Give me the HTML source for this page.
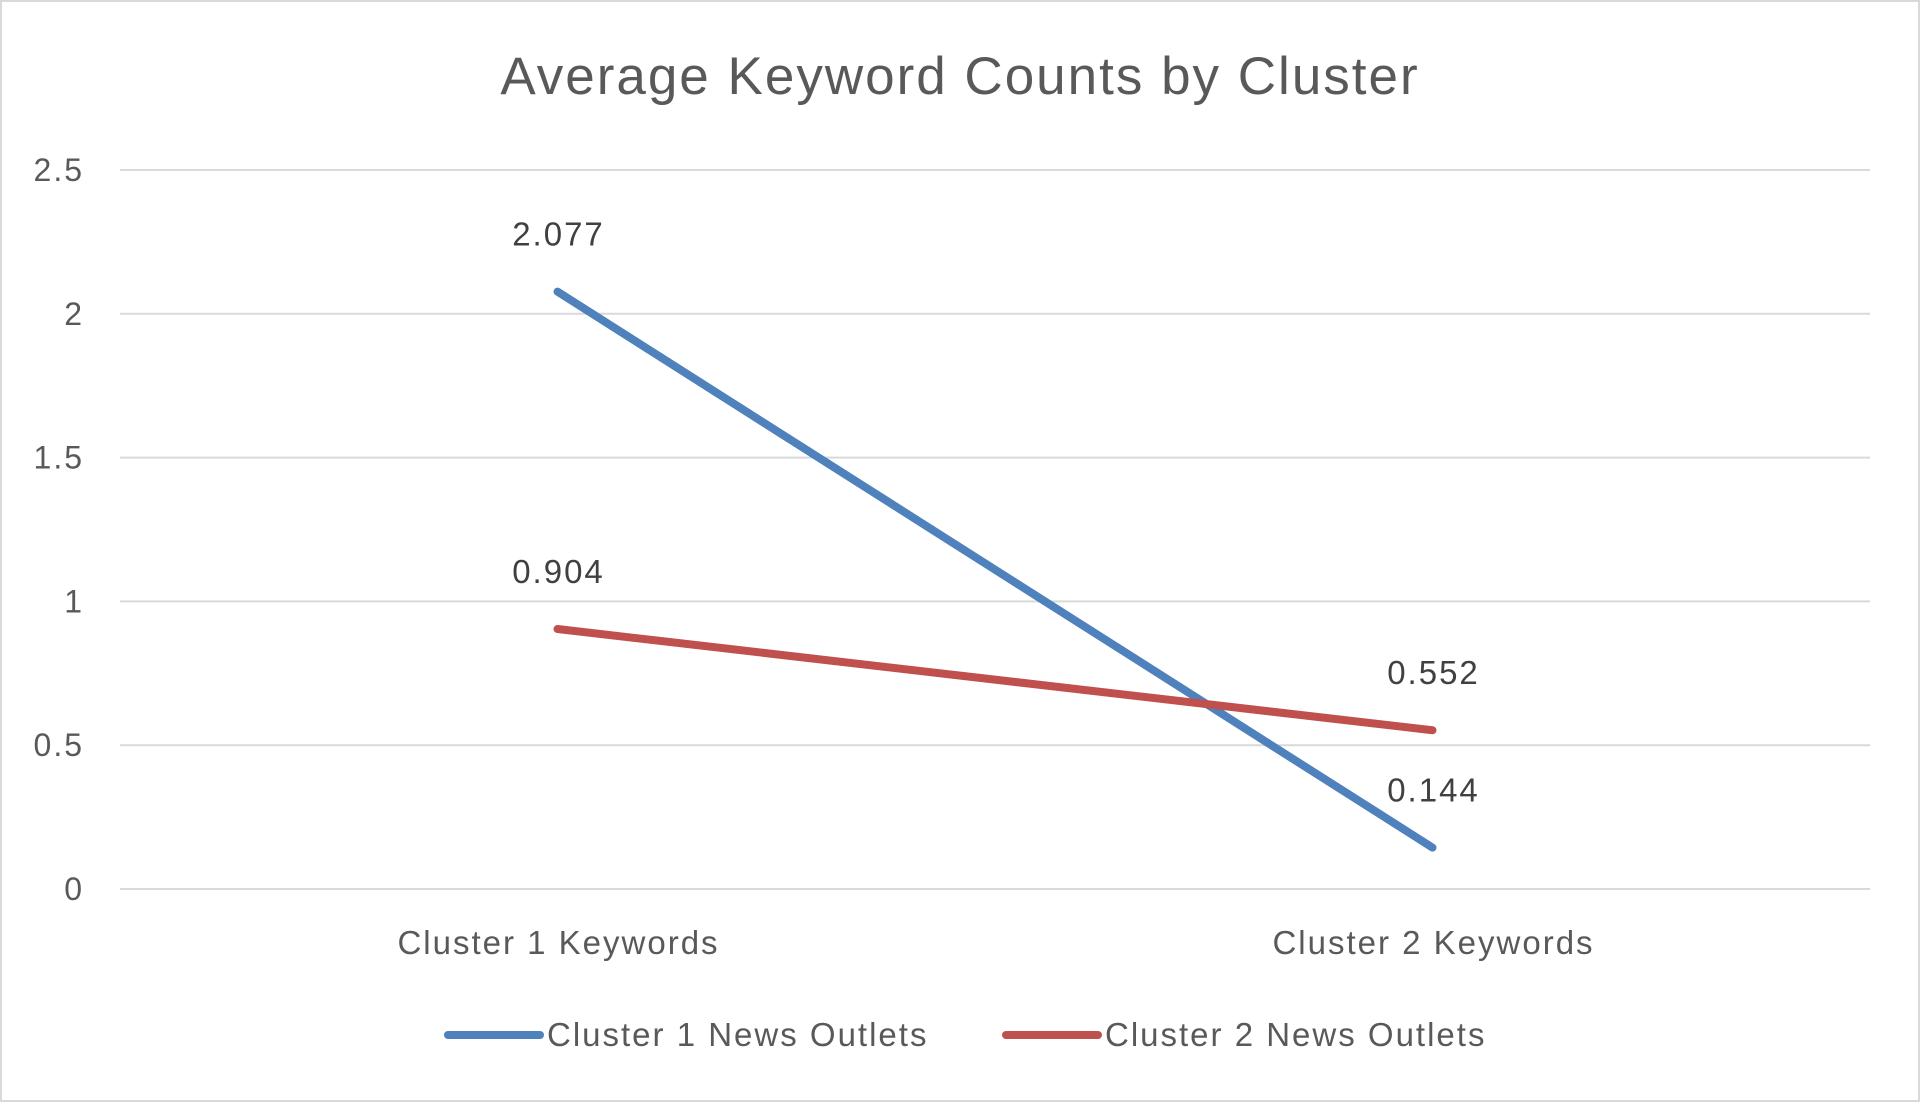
<!DOCTYPE html>
<html><head><meta charset="utf-8"><style>
html,body{margin:0;padding:0;background:#fff;}
svg{display:block;font-family:"Liberation Sans",sans-serif;}
svg text{letter-spacing:2px;}
</style></head><body>
<svg id="chart" width="1921" height="1103" viewBox="0 0 1921 1103">
<rect x="1" y="1" width="1918" height="1100" fill="#fff" stroke="#d9d9d9" stroke-width="2"/>
<text x="960" y="94" text-anchor="middle" font-size="53" fill="#595959">Average Keyword Counts by Cluster</text>
<g id="grid"></g><g id="lines"></g><g id="labels"></g>
<g>
<line x1="448" y1="1035" x2="540" y2="1035" stroke="#4F81BD" stroke-width="8" stroke-linecap="round"/>
<text x="547" y="1046" font-size="33" fill="#595959">Cluster 1 News Outlets</text>
<line x1="1006" y1="1035" x2="1098" y2="1035" stroke="#C0504D" stroke-width="8" stroke-linecap="round"/>
<text x="1105" y="1046" font-size="33" fill="#595959">Cluster 2 News Outlets</text>
</g>
</svg>
<script>
const categories=["Cluster 1 Keywords","Cluster 2 Keywords"];
const series1=[2.077,0.144];
const series2=[0.904,0.552];
const yTicks=[0,0.5,1,1.5,2,2.5];
const yTickLabels=["0","0.5","1","1.5","2","2.5"];
const NS="http://www.w3.org/2000/svg";
const L=120,R=1870,T=170,B=889,yMax=2.5;
const y=v=>B-(v/yMax)*(B-T);
const band=(R-L)/categories.length;
const x=i=>L+band*(i+0.5);
function mk(tag,attrs,parent){const e=document.createElementNS(NS,tag);for(const k in attrs)e.setAttribute(k,attrs[k]);parent.appendChild(e);return e;}
const grid=document.getElementById('grid'),lines=document.getElementById('lines'),labels=document.getElementById('labels');
yTicks.forEach((t,i)=>{
 const g=mk('line',{x1:L,x2:R,y1:y(t),y2:y(t),stroke:'#d9d9d9','stroke-width':2},grid);
 
 
 const tx=mk('text',{x:84,y:y(t)+11,'text-anchor':'end','font-size':32,fill:'#595959'},grid);
 tx.textContent=yTickLabels[i];
 
 
});
categories.forEach((c,i)=>{
 const tx=mk('text',{x:x(i)+1,y:954,'text-anchor':'middle','font-size':33,fill:'#595959'},labels);
 tx.textContent=c;
 
 
});
[[series1,'#4F81BD','cluster-1'],[series2,'#C0504D','cluster-2']].forEach(([s,col,n])=>{
 const p=mk('polyline',{points:s.map((v,i)=>x(i)+','+y(v)).join(' '),fill:'none',stroke:col,'stroke-width':8,'stroke-linecap':'round','stroke-linejoin':'round'},lines);
 
 
 s.forEach((v,i)=>{
  const tx=mk('text',{x:x(i)+1,y:y(v)-46,'text-anchor':'middle','font-size':33,fill:'#404040'},labels);
  tx.textContent=v.toFixed(3);
  
  
 });
});
</script>
</body></html>
